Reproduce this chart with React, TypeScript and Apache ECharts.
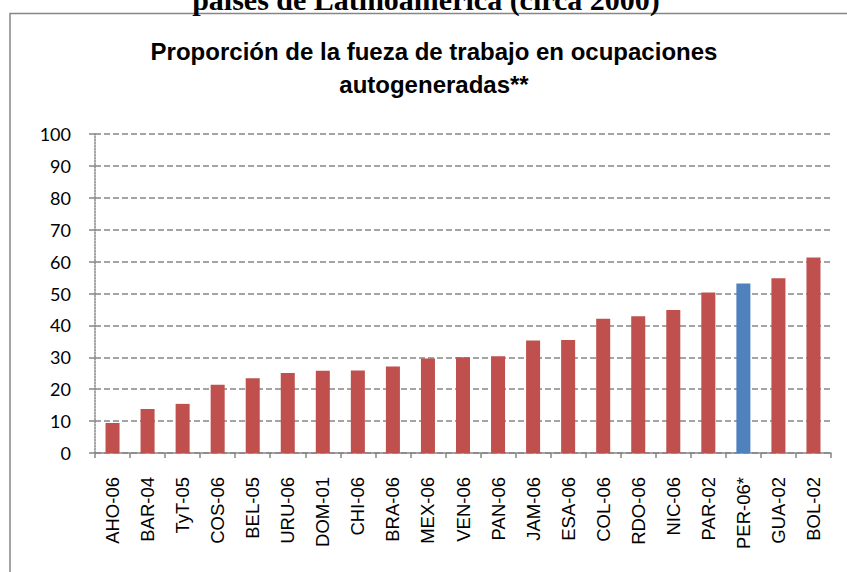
import React, { useEffect, useRef } from "react";
import * as echarts from "echarts";

const categories = [
  "AHO-06", "BAR-04", "TyT-05", "COS-06", "BEL-05", "URU-06", "DOM-01",
  "CHI-06", "BRA-06", "MEX-06", "VEN-06", "PAN-06", "JAM-06", "ESA-06",
  "COL-06", "RDO-06", "NIC-06", "PAR-02", "PER-06*", "GUA-02", "BOL-02",
];
const values = [
  9.4, 13.8, 15.4, 21.4, 23.4, 25.1, 25.8, 25.9, 27.1, 29.6, 30.0, 30.3,
  35.3, 35.4, 42.1, 42.9, 44.8, 50.3, 53.1, 54.8, 61.3,
];
const highlighted = ["PER-06*"];
const yTicks = [0, 10, 20, 30, 40, 50, 60, 70, 80, 90, 100];
const docTitle = "países de Latinoamérica (circa 2000)";
const chartTitle = "Proporción de la fueza de trabajo en ocupaciones\nautogeneradas**";

const RED = "#C0504D";
const BLUE = "#4F81BD";
const GRAY = "#868686";

export default function App() {
  const ref = useRef<HTMLDivElement>(null);
  useEffect(() => {
    if (!ref.current) return;
    const chart = echarts.init(ref.current, null, { renderer: "svg" });
    chart.setOption({
      animation: false,
      backgroundColor: "#ffffff",
      title: {
        text: chartTitle,
        left: 429,
        top: 30,
        textAlign: "center",
        textStyle: {
          fontFamily: "Liberation Sans",
          fontWeight: "bold",
          fontSize: 24,
          lineHeight: 33,
          color: "#000",
        },
      },
      graphic: [
        {
          type: "rect",
          shape: { x: 10, y: 13.5, width: 900, height: 700 },
          style: { fill: "none", stroke: GRAY, lineWidth: 1.5 },
          silent: true,
        },
        {
          type: "text",
          x: 426,
          y: 14.5,
          style: {
            text: docTitle,
            fontFamily: "Liberation Serif",
            fontWeight: "bold",
            fontSize: 30,
            fill: "#000",
            textAlign: "center",
            textVerticalAlign: "bottom",
          },
          silent: true,
        },
      ],
      grid: { left: 95, right: 16, top: 134, bottom: 119, containLabel: false },
      xAxis: {
        type: "category",
        data: categories,
        boundaryGap: true,
        axisLine: { show: true, lineStyle: { color: GRAY, width: 1.5 } },
        axisTick: { show: true, length: 5, lineStyle: { color: GRAY, width: 1.5 } },
        axisLabel: {
          rotate: 90,
          margin: 24,
          interval: 0,
          fontFamily: "Liberation Sans",
          fontSize: 18.5,
          color: "#000",
        },
      },
      yAxis: {
        type: "value",
        min: yTicks[0],
        max: yTicks[yTicks.length - 1],
        interval: yTicks[1] - yTicks[0],
        axisLine: { show: true, lineStyle: { color: GRAY, width: 1.5, type: [1.5, 1.5] } },
        axisTick: { show: true, length: 7, lineStyle: { color: GRAY, width: 1.5, type: [6, 3] } },
        splitLine: { show: true, lineStyle: { color: GRAY, width: 1.5, type: [6, 3] } },
        axisLabel: {
          margin: 24,
          fontFamily: "Lato",
          fontSize: 18,
          color: "#000",
        },
      },
      series: [
        {
          type: "bar",
          barCategoryGap: "60%",
          data: values.map((v, i) => ({
            value: v,
            itemStyle: { color: highlighted.includes(categories[i]) ? BLUE : RED },
          })),
        },
      ],
    });
    return () => chart.dispose();
  }, []);
  return (
    <div
      ref={ref}
      style={{ position: "absolute", left: 0, top: 0, width: 847, height: 572 }}
    />
  );
}
